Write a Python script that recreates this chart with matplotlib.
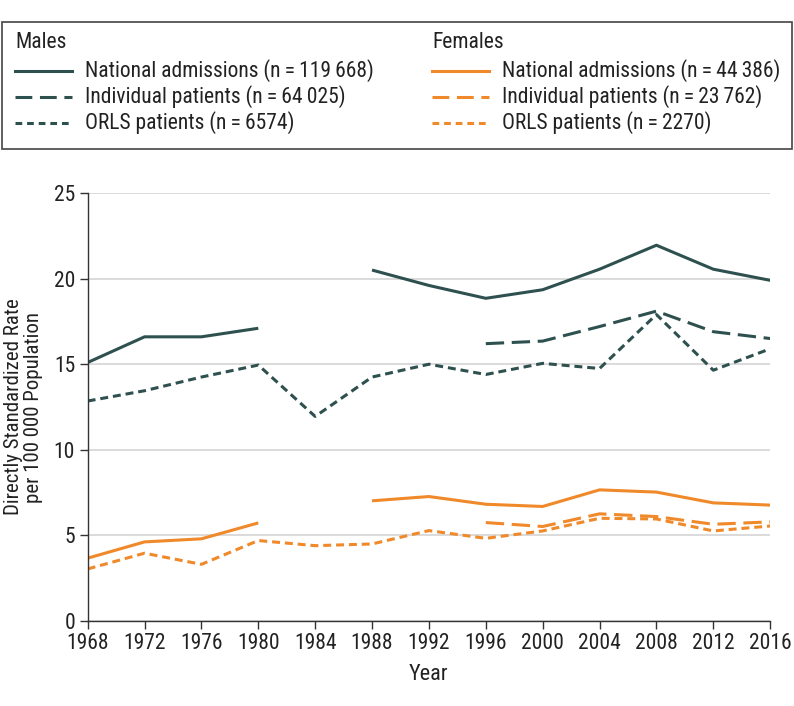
import numpy as np
import matplotlib.pyplot as plt
from matplotlib.lines import Line2D
from matplotlib.patches import Rectangle

plt.rcParams['font.family'] = ['Roboto Condensed', 'Lato', 'DejaVu Sans']

teal = '#2e514f'
orange = '#f0892a'

years = [1968, 1972, 1976, 1980, 1984, 1988, 1992, 1996, 2000, 2004, 2008, 2012, 2016]

# NaN marks missing years (gaps in the lines)
male_national = [15.1, 16.6, 16.6, 17.1, np.nan, 20.5, 19.6, 18.85, 19.35, 20.55, 21.95, 20.55, 19.9]
male_individual = [np.nan] * 7 + [16.2, 16.35, 17.2, 18.1, 16.9, 16.5]
male_orls = [12.85, 13.45, 14.25, 14.95, 11.95, 14.25, 15.0, 14.4, 15.05, 14.75, 17.9, 14.65, 15.9]

female_national = [3.67, 4.62, 4.8, 5.73, np.nan, 7.02, 7.27, 6.82, 6.69, 7.66, 7.53, 6.9, 6.77]
female_individual = [np.nan] * 7 + [5.75, 5.52, 6.26, 6.1, 5.65, 5.79]
female_orls = [3.04, 3.96, 3.31, 4.7, 4.4, 4.5, 5.28, 4.83, 5.26, 6.0, 5.96, 5.26, 5.55]

ts = '\u2009'
male_labels = [f'National admissions (n{ts}={ts}119{ts}668)',
               f'Individual patients (n{ts}={ts}64{ts}025)',
               f'ORLS patients (n{ts}={ts}6574)']
female_labels = [f'National admissions (n{ts}={ts}44{ts}386)',
                 f'Individual patients (n{ts}={ts}23{ts}762)',
                 f'ORLS patients (n{ts}={ts}2270)']

styles = ['-', (0, (6, 2.5)), (0, (2.6, 1.6))]
lw = 2.2

fig = plt.figure(figsize=(7.94, 7.06), dpi=100)
ax = fig.add_axes([0.1104, 0.1204, 0.8596, 0.6062])

for vals, ls in zip([male_national, male_individual, male_orls], styles):
    ax.plot(years, vals, color=teal, lw=lw, linestyle=ls, solid_capstyle='butt', dash_capstyle='butt')
for vals, ls in zip([female_national, female_individual, female_orls], styles):
    ax.plot(years, vals, color=orange, lw=lw, linestyle=ls, solid_capstyle='butt', dash_capstyle='butt')

ax.set_xlim(1968, 2016)
ax.set_ylim(0, 25)
ax.set_xticks(years)
ax.set_yticks([0, 5, 10, 15, 20, 25])
ax.yaxis.grid(True, color='#d8d8d8', lw=1.3)
ax.set_axisbelow(True)
for s in ['top', 'right']:
    ax.spines[s].set_visible(False)
for s in ['left', 'bottom']:
    ax.spines[s].set_color('#333333')
    ax.spines[s].set_linewidth(1.0)
ax.tick_params(labelsize=15.5, length=6, width=1.0, color='#333333', labelcolor='#222222', pad=3)
ax.set_xlabel('Year', fontsize=16, labelpad=7, color='#222222')
ax.set_ylabel('Directly Standardized Rate\nper 100 000 Population', fontsize=15,
              labelpad=8, color='#222222', linespacing=1.05)

# legend box drawn at figure level
W, H = 794, 706
fig.patches.append(Rectangle((2 / W, 1 - 149 / H), 790 / W, 127 / H, transform=fig.transFigure,
                             fill=False, edgecolor='#444444', lw=1.2))

def legend_col(x0, header, labels, color):
    fig.text(x0 / W, 1 - 43 / H, header, fontsize=15.5, va='center', ha='left', color='#222222')
    leg_styles = ['-', (0, (5.5, 2.5)), (0, (2.2, 1.6))]
    for i, (lab, ls) in enumerate(zip(labels, leg_styles)):
        y = 1 - (71 + 26 * i) / H
        fig.add_artist(Line2D([x0 / W, (x0 + 57) / W], [y, y], transform=fig.transFigure,
                              color=color, lw=lw, linestyle=ls, dash_capstyle='butt'))
        fig.text((x0 + 70) / W, y, lab, fontsize=15.5, va='center', ha='left', color='#222222')

legend_col(15, 'Males', male_labels, teal)
legend_col(432, 'Females', female_labels, orange)

fig.savefig('out.png', dpi=100)
